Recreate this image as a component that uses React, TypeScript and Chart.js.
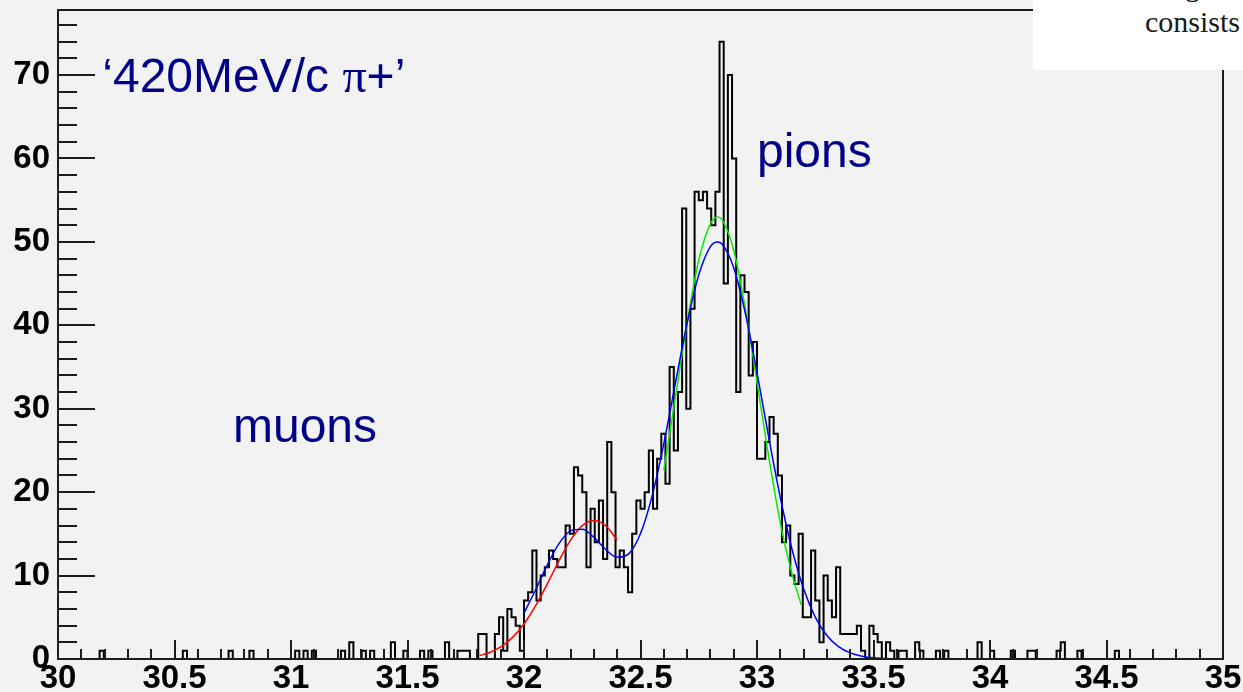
import React, { useEffect, useRef } from 'react';
import { Chart, registerables } from 'chart.js';

Chart.register(...registerables);

// Axis ranges and binning of the histogram
const X_MIN = 30;
const X_MAX = 35;
const Y_MAX = 77.8;
const BIN_TOTAL = 280;

const xTickValues = [30, 30.5, 31, 31.5, 32, 32.5, 33, 33.5, 34, 34.5, 35];
const xTickLabels = ['30', '30.5', '31', '31.5', '32', '32.5', '33', '33.5', '34', '34.5', '35'];
const yTickValues = [0, 10, 20, 30, 40, 50, 60, 70];
const yTickLabels = ['0', '10', '20', '30', '40', '50', '60', '70'];

// Sparse bins below the muon/pion region (bin index, entries)
const lowTailBins = [10, 30, 41, 46, 57, 59, 61, 68, 70, 73, 75, 80, 83, 87, 89, 93, 96, 97, 98];
const lowTailCounts = [1, 1, 1, 1, 1, 1, 1, 1, 2, 1, 1, 2, 1, 1, 1, 2, 1, 1, 1];

// Dense region, bins 101..200
const peakFirstBin = 101;
const peakCounts = [
  3, 3, 0, 0, 3, 5, 1, 6, 5, 4,
  1, 7, 8, 13, 7, 10, 11, 13, 12, 11,
  11, 16, 15, 23, 22, 20, 11, 18, 14, 19,
  12, 26, 20, 11, 13, 11, 8, 15, 19, 18,
  20, 25, 18, 24, 27, 21, 35, 25, 32, 54,
  30, 42, 56, 55, 56, 54, 52, 56, 74, 45,
  70, 60, 32, 46, 44, 34, 38, 24, 24, 26,
  29, 27, 22, 14, 16, 10, 9, 15, 5, 5,
  13, 7, 2, 10, 7, 5, 11, 3, 3, 3,
  3, 4, 1, 0, 4, 3, 2, 0, 2, 1,
];

// Sparse bins above the pion peak
const highTailBins = [202, 203, 206, 207, 211, 213, 221, 224, 229, 233, 234, 240, 241, 245, 254];
const highTailCounts = [1, 1, 2, 1, 1, 1, 2, 1, 1, 1, 1, 1, 2, 1, 1];

// Muon fit (red)
const muonFitX = [31.81, 31.85, 31.9, 31.95, 32.0, 32.05, 32.1, 32.15, 32.2, 32.25, 32.3, 32.35, 32.4];
const muonFitY = [0.42, 0.75, 1.44, 2.56, 4.2, 6.39, 9.01, 11.78, 14.25, 15.98, 16.6, 15.98, 14.25];

// Pion fit (green)
const pionFitX = [32.6, 32.65, 32.7, 32.75, 32.8, 32.83, 32.85, 32.9, 32.95, 33.0, 33.05, 33.1, 33.15, 33.19];
const pionFitY = [22.6, 31.4, 40.3, 47.8, 52.2, 53.0, 52.7, 49.0, 42.0, 33.2, 24.3, 16.3, 10.2, 6.5];

// Combined fit (blue)
const totalFitX = [
  32.0, 32.05, 32.1, 32.15, 32.2, 32.25, 32.3, 32.35, 32.4, 32.45, 32.5,
  32.55, 32.6, 32.65, 32.7, 32.75, 32.8, 32.83, 32.85, 32.9, 32.95, 33.0,
  33.05, 33.1, 33.15, 33.2, 33.25, 33.3, 33.35, 33.4, 33.45, 33.5, 33.55,
];
const totalFitY = [
  5.51, 8.3, 11.28, 13.83, 15.36, 15.54, 14.58, 13.15, 12.19, 12.63, 15.04,
  19.56, 25.83, 33.1, 40.25, 46.04, 49.43, 50.0, 49.74, 46.91, 41.45, 34.32,
  26.63, 19.36, 13.18, 8.41, 5.03, 2.82, 1.48, 0.73, 0.34, 0.14, 0.06,
];

const binWidth = (X_MAX - X_MIN) / BIN_TOTAL;

function buildCounts(): number[] {
  const counts = new Array(BIN_TOTAL).fill(0);
  lowTailBins.forEach((b, i) => { counts[b] = lowTailCounts[i]; });
  peakCounts.forEach((c, i) => { counts[peakFirstBin + i] = c; });
  highTailBins.forEach((b, i) => { counts[b] = highTailCounts[i]; });
  return counts;
}

// Histogram outline: each bin contributes its top edge; neighbouring bins join with vertical steps
function histogramOutline(counts: number[]) {
  const pts: { x: number; y: number }[] = [];
  counts.forEach((c, k) => {
    const lo = X_MIN + k * binWidth;
    pts.push({ x: lo, y: c }, { x: lo + binWidth, y: c });
  });
  return pts;
}

function zipPoints(xs: number[], ys: number[]) {
  return xs.map((x, i) => ({ x, y: ys[i] }));
}

const SANS = '"Liberation Sans", Arial, Helvetica, sans-serif';
const SERIF = '"Liberation Serif", "Times New Roman", serif';

// Frame with inward ticks, drawn on top of the data
const framePlugin = {
  id: 'rootFrame',
  afterDraw(chart: any) {
    const { ctx, chartArea, scales } = chart;
    const { left, right, top, bottom } = chartArea;
    const xs = scales.x;
    const ys = scales.y;
    ctx.save();
    ctx.strokeStyle = '#1c1c1c';
    ctx.lineWidth = 2;
    ctx.strokeRect(left, top, right - left, bottom - top);
    ctx.beginPath();
    for (let i = 0; i <= 50; i++) {
      const px = Math.round(xs.getPixelForValue(X_MIN + i * 0.1));
      const len = i % 5 === 0 ? 19 : 10;
      ctx.moveTo(px, bottom);
      ctx.lineTo(px, bottom - len);
    }
    for (let j = 0; j * 2 < Y_MAX; j++) {
      const py = Math.round(ys.getPixelForValue(j * 2));
      const len = j % 5 === 0 ? 37 : 19;
      ctx.moveTo(left, py);
      ctx.lineTo(left + len, py);
    }
    ctx.stroke();
    ctx.restore();
  },
};

// Text labels placed in data coordinates
const labelPlugin = {
  id: 'peakLabels',
  afterDatasetsDraw(chart: any) {
    const { ctx, scales } = chart;
    const xs = scales.x;
    const ys = scales.y;
    ctx.save();
    ctx.fillStyle = '#000088';
    ctx.textAlign = 'left';
    ctx.textBaseline = 'alphabetic';
    const sans = `48px ${SANS}`;
    const serif = `48px ${SERIF}`;
    let px = xs.getPixelForValue(30.19);
    const py = ys.getPixelForValue(68);
    const parts: [string, string][] = [['\u2018420MeV/c ', sans], ['\u03c0', serif], ['+\u2019', sans]];
    for (const [t, f] of parts) {
      ctx.font = f;
      ctx.fillText(t, px, py);
      px += ctx.measureText(t).width;
    }
    ctx.font = sans;
    ctx.fillText('pions', xs.getPixelForValue(33.0), ys.getPixelForValue(59));
    ctx.fillText('muons', xs.getPixelForValue(30.751), ys.getPixelForValue(26));
    ctx.restore();
  },
};

export default function App() {
  const canvasRef = useRef<HTMLCanvasElement | null>(null);

  useEffect(() => {
    const canvas = canvasRef.current;
    if (!canvas) return;
    const counts = buildCounts();
    const tickFont = { family: SANS, size: 33, weight: 'bold' as const };

    const chart = new Chart(canvas, {
      type: 'line',
      data: {
        datasets: [
          {
            label: 'total fit',
            data: zipPoints(totalFitX, totalFitY),
            borderColor: '#0000ff',
            borderWidth: 1.5,
            pointRadius: 0,
            cubicInterpolationMode: 'monotone',
            fill: false,
            order: 1,
          },
          {
            label: 'pion fit',
            data: zipPoints(pionFitX, pionFitY),
            borderColor: '#00ee00',
            borderWidth: 1.5,
            pointRadius: 0,
            cubicInterpolationMode: 'monotone',
            fill: false,
            order: 2,
          },
          {
            label: 'muon fit',
            data: zipPoints(muonFitX, muonFitY),
            borderColor: '#ff0000',
            borderWidth: 1.5,
            pointRadius: 0,
            cubicInterpolationMode: 'monotone',
            fill: false,
            order: 3,
          },
          {
            label: 'entries',
            data: histogramOutline(counts),
            borderColor: '#000000',
            borderWidth: 2,
            borderJoinStyle: 'miter',
            pointRadius: 0,
            tension: 0,
            fill: false,
            order: 10,
          },
        ],
      },
      options: {
        animation: false,
        responsive: false,
        devicePixelRatio: 1,
        layout: { padding: { top: 10, right: 20, left: 0, bottom: 0 } },
        plugins: {
          legend: { display: false },
          tooltip: { enabled: false },
        },
        scales: {
          x: {
            type: 'linear',
            min: X_MIN,
            max: X_MAX,
            grid: { display: false, drawTicks: false },
            border: { display: false },
            ticks: {
              font: tickFont,
              color: '#000',
              padding: 0,
              maxRotation: 0,
              autoSkip: false,
              callback: (v: any) => xTickLabels[xTickValues.indexOf(Number(v))] ?? '',
            },
            afterBuildTicks: (s: any) => { s.ticks = xTickValues.map((value) => ({ value })); },
            afterFit: (s: any) => {
              s.height = 33;
              s.paddingLeft = 0;
              s.paddingRight = 0;
            },
          },
          y: {
            type: 'linear',
            min: 0,
            max: Y_MAX,
            grid: { display: false, drawTicks: false },
            border: { display: false },
            ticks: {
              font: tickFont,
              color: '#000',
              padding: 8,
              autoSkip: false,
              callback: (v: any) => yTickLabels[yTickValues.indexOf(Number(v))] ?? '',
            },
            afterBuildTicks: (s: any) => { s.ticks = yTickValues.map((value) => ({ value })); },
            afterFit: (s: any) => {
              s.width = 58;
              s.paddingTop = 0;
              s.paddingBottom = 0;
            },
          },
        },
      },
      plugins: [labelPlugin, framePlugin],
    } as any);

    return () => chart.destroy();
  }, []);

  return (
    <div
      style={{
        position: 'fixed',
        left: 0,
        top: 0,
        width: 1243,
        height: 692,
        background: '#f2f2f2',
        overflow: 'hidden',
      }}
    >
      <canvas ref={canvasRef} width={1243} height={692} style={{ display: 'block' }} />
      <div
        style={{
          position: 'absolute',
          left: 1033,
          top: 0,
          width: 210,
          height: 70,
          background: '#ffffff',
          overflow: 'hidden',
        }}
      >
        <span
          style={{
            position: 'absolute',
            left: 152,
            top: -29,
            font: `30px ${SERIF}`,
            lineHeight: '30px',
            color: '#1a1a1a',
            whiteSpace: 'nowrap',
          }}
        >
          g
        </span>
        <span
          style={{
            position: 'absolute',
            right: 3,
            top: 7,
            font: `30px ${SERIF}`,
            lineHeight: '30px',
            color: '#1a1a1a',
            whiteSpace: 'nowrap',
          }}
        >
          consists
        </span>
      </div>
    </div>
  );
}
